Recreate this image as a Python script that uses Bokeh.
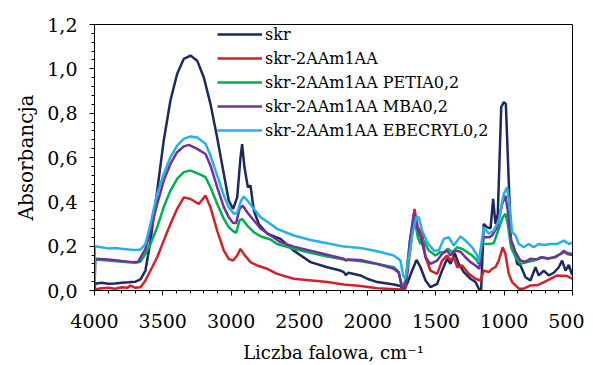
from bokeh.plotting import figure
from bokeh.models import Range1d, FixedTicker, Legend, LegendItem
from bokeh.embed import file_html
from bokeh.resources import INLINE

# ---- data (wavenumber, absorbance) ----
skr_wn = [4000, 3995, 3950, 3900, 3850, 3800, 3750, 3700, 3663, 3627, 3590, 3541, 3493, 3444, 3395, 3346, 3297,
          3248, 3200, 3151, 3102, 3053, 3017, 2985, 2955, 2931, 2919, 2902, 2877, 2858, 2833, 2797, 2735, 2638,
          2541, 2418, 2296, 2200, 2175, 2160, 2140, 2052, 2003, 1930, 1808, 1760, 1738, 1711, 1674, 1642, 1613,
          1576, 1540, 1491, 1455, 1418, 1393, 1362, 1333, 1296, 1247, 1210, 1186, 1169, 1150, 1125, 1100, 1081,
          1064, 1047, 1022, 1003, 988, 967, 950, 930, 905, 881, 844, 808, 771, 747, 710, 674, 637, 600, 576, 551,
          527, 502]
skr_a = [0.0, 0.03, 0.035, 0.03, 0.032, 0.035, 0.037, 0.04, 0.05, 0.09, 0.225, 0.45, 0.677, 0.857, 0.977, 1.045,
         1.06, 1.037, 0.962, 0.842, 0.69, 0.526, 0.406, 0.368, 0.42, 0.60, 0.66, 0.556, 0.466, 0.474, 0.36, 0.30,
         0.256, 0.233, 0.18, 0.128, 0.105, 0.09, 0.083, 0.07, 0.08, 0.068, 0.053, 0.038, 0.027, 0.02, 0.0, 0.03,
         0.09, 0.138, 0.105, 0.045, 0.015, 0.03, 0.09, 0.143, 0.12, 0.168, 0.12, 0.083, 0.053, 0.038, 0.008, 0.0,
         0.30, 0.285, 0.28, 0.413, 0.30, 0.346, 0.827, 0.85, 0.842, 0.496, 0.225, 0.195, 0.12, 0.113, 0.06, 0.045,
         0.105, 0.068, 0.09, 0.068, 0.08, 0.105, 0.135, 0.09, 0.115, 0.07]

red_wn = [4000, 3950, 3900, 3850, 3800, 3760, 3736, 3700, 3663, 3627, 3590, 3541, 3493, 3444, 3395, 3346, 3297,
          3236, 3187, 3151, 3102, 3053, 3017, 2985, 2955, 2931, 2907, 2858, 2809, 2735, 2663, 2541, 2296, 2175,
          2052, 1930, 1760, 1723, 1686, 1657, 1633, 1601, 1576, 1540, 1491, 1455, 1418, 1393, 1369, 1344, 1308,
          1259, 1210, 1174, 1150, 1113, 1089, 1064, 1040, 1011, 991, 967, 942, 893, 857, 808, 750, 686, 612, 539, 502]
red_a = [0.005, 0.01, 0.012, 0.008, 0.015, 0.012, 0.022, 0.012, 0.015, 0.045, 0.09, 0.15, 0.225, 0.30, 0.368, 0.42,
         0.413, 0.39, 0.428, 0.376, 0.27, 0.18, 0.143, 0.135, 0.158, 0.188, 0.165, 0.128, 0.113, 0.098, 0.075, 0.053,
         0.038, 0.027, 0.02, 0.01, 0.005, 0.008, 0.195, 0.368, 0.285, 0.256, 0.15, 0.09, 0.075, 0.135, 0.158, 0.135,
         0.15, 0.105, 0.113, 0.075, 0.053, 0.045, 0.09, 0.083, 0.098, 0.105, 0.135, 0.195, 0.165, 0.075, 0.038,
         0.008, 0.008, 0.023, 0.025, 0.045, 0.068, 0.065, 0.053]

petia_wn = [4000, 3995, 3900, 3800, 3700, 3663, 3627, 3590, 3541, 3493, 3444, 3395, 3346, 3297, 3236, 3187, 3151,
            3102, 3053, 3017, 2985, 2963, 2938, 2919, 2882, 2833, 2785, 2711, 2663, 2541, 2418, 2296, 2175, 2052,
            1930, 1808, 1772, 1747, 1723, 1686, 1657, 1633, 1613, 1589, 1552, 1503, 1467, 1442, 1413, 1381, 1344,
            1308, 1271, 1235, 1198, 1190, 1165, 1150, 1113, 1077, 1040, 1011, 991, 974, 950, 917, 881, 832, 783,
            735, 686, 637, 588, 551, 502]
petia_a = [0.0, 0.14, 0.135, 0.13, 0.125, 0.13, 0.165, 0.21, 0.285, 0.376, 0.451, 0.504, 0.534, 0.541, 0.526,
           0.511, 0.466, 0.391, 0.323, 0.286, 0.268, 0.26, 0.316, 0.323, 0.293, 0.263, 0.245, 0.23, 0.21, 0.188,
           0.17, 0.153, 0.14, 0.132, 0.12, 0.105, 0.083, 0.015, 0.045, 0.24, 0.33, 0.24, 0.21, 0.225, 0.18, 0.158,
           0.173, 0.173, 0.188, 0.173, 0.195, 0.188, 0.173, 0.158, 0.135, 0.12, 0.2, 0.21, 0.21, 0.213, 0.278, 0.33,
           0.346, 0.30, 0.195, 0.15, 0.12, 0.128, 0.135, 0.15, 0.143, 0.15, 0.165, 0.173, 0.165]

mba_wn = [4000, 3995, 3900, 3800, 3720, 3680, 3627, 3590, 3541, 3493, 3444, 3395, 3346, 3309, 3248, 3187, 3151,
          3102, 3053, 3017, 2985, 2963, 2938, 2914, 2882, 2833, 2785, 2711, 2638, 2541, 2418, 2296, 2175, 2160,
          2140, 2052, 1930, 1808, 1772, 1745, 1720, 1691, 1662, 1637, 1608, 1576, 1540, 1491, 1455, 1418, 1393,
          1357, 1320, 1284, 1247, 1210, 1182, 1165, 1150, 1113, 1089, 1052, 1015, 991, 974, 950, 917, 881, 844,
          808, 759, 722, 674, 625, 588, 563, 539, 502]
mba_a = [0.0, 0.143, 0.14, 0.133, 0.128, 0.13, 0.188, 0.27, 0.39, 0.496, 0.571, 0.624, 0.65, 0.657, 0.639, 0.616,
         0.564, 0.466, 0.376, 0.331, 0.304, 0.305, 0.368, 0.383, 0.353, 0.316, 0.28, 0.248, 0.218, 0.198, 0.18,
         0.161, 0.143, 0.135, 0.14, 0.138, 0.12, 0.098, 0.08, 0.0, 0.03, 0.225, 0.346, 0.285, 0.233, 0.15, 0.12,
         0.135, 0.165, 0.18, 0.158, 0.18, 0.175, 0.15, 0.128, 0.113, 0.098, 0.2, 0.24, 0.24, 0.248, 0.285, 0.39,
         0.428, 0.36, 0.225, 0.173, 0.135, 0.13, 0.143, 0.14, 0.15, 0.145, 0.15, 0.165, 0.18, 0.165, 0.16]

ebe_wn = [4000, 3997, 3950, 3900, 3850, 3800, 3750, 3700, 3663, 3627, 3590, 3541, 3493, 3444, 3395, 3346, 3297,
          3248, 3187, 3151, 3102, 3053, 3017, 2980, 2955, 2926, 2907, 2870, 2833, 2785, 2711, 2663, 2541, 2418,
          2296, 2175, 2052, 1930, 1808, 1760, 1740, 1723, 1698, 1667, 1642, 1625, 1601, 1564, 1515, 1479, 1442,
          1406, 1369, 1320, 1284, 1235, 1198, 1186, 1150, 1113, 1077, 1040, 1003, 979, 960, 942, 918, 893, 857,
          820, 784, 747, 710, 662, 612, 563, 527, 502]
ebe_a = [0.04, 0.2, 0.195, 0.19, 0.192, 0.188, 0.185, 0.183, 0.185, 0.21, 0.30, 0.436, 0.526, 0.601, 0.654, 0.684,
         0.695, 0.69, 0.662, 0.609, 0.519, 0.428, 0.376, 0.346, 0.35, 0.406, 0.424, 0.398, 0.368, 0.331, 0.30,
         0.278, 0.248, 0.228, 0.213, 0.198, 0.192, 0.177, 0.158, 0.135, 0.068, 0.053, 0.15, 0.27, 0.334, 0.33,
         0.27, 0.218, 0.18, 0.18, 0.233, 0.24, 0.203, 0.244, 0.225, 0.195, 0.158, 0.128, 0.285, 0.256, 0.27,
         0.316, 0.436, 0.466, 0.376, 0.263, 0.25, 0.21, 0.195, 0.21, 0.195, 0.21, 0.205, 0.21, 0.21, 0.225, 0.21,
         0.215]

series_names = ["skr", "skr-2AAm1AA", "skr-2AAm1AA PETIA0,2", "skr-2AAm1AA MBA0,2", "skr-2AAm1AA EBECRYL0,2"]
series_colors = ["#1c2a5c", "#d0222b", "#00b050", "#7030a0", "#29aee6"]
series_data = [(skr_wn, skr_a), (red_wn, red_a), (petia_wn, petia_a), (mba_wn, mba_a), (ebe_wn, ebe_a)]

x_ticks = [4000, 3500, 3000, 2500, 2000, 1500, 1000, 500]
y_ticks = [0.0, 0.2, 0.4, 0.6, 0.8, 1.0, 1.2]
y_tick_labels = ["0,0", "0,2", "0,4", "0,6", "0,8", "1,0", "1,2"]

SERIF = "DejaVu Serif"

p = figure(frame_width=478, frame_height=266, output_backend="svg", toolbar_location=None,
           x_range=Range1d(4000, 500), y_range=Range1d(0, 1.2),
           min_border_left=94, min_border_top=24, min_border_right=12, min_border_bottom=70)
p.background_fill_color = "white"
p.border_fill_color = "white"
p.outline_line_color = "black"
p.outline_line_width = 1
p.xgrid.visible = False
p.ygrid.visible = False

renderers = []
for (wn, a), c in zip(series_data, series_colors):
    r = p.line(wn, a, line_color=c, line_width=2.5)
    renderers.append(r)

legend = Legend(items=[LegendItem(label=n, renderers=[r]) for n, r in zip(series_names, renderers)],
                location=(123, 150))
legend.border_line_color = None
legend.background_fill_alpha = 0
legend.padding = 0
legend.margin = 0
legend.spacing = 4
legend.glyph_width = 45
legend.glyph_height = 20
legend.label_height = 20
legend.label_standoff = 3
legend.label_text_font = SERIF
legend.label_text_font_size = "16px"
legend.label_text_color = "black"
p.add_layout(legend)

# x axis
xa = p.xaxis[0]
xa.ticker = FixedTicker(ticks=x_ticks, minor_ticks=list(range(500, 4001, 100)))
xa.major_label_text_font = SERIF
xa.major_label_text_font_size = "19px"
xa.major_label_text_color = "black"
xa.major_label_standoff = 18
xa.major_tick_in = 0
xa.major_tick_out = 5
xa.minor_tick_in = 0
xa.minor_tick_out = 3
xa.axis_line_color = "black"
xa.major_tick_line_color = "black"
xa.minor_tick_line_color = "black"
xa.axis_label = "Liczba falowa, cm\u207b\u00b9"
xa.axis_label_text_font = SERIF
xa.axis_label_text_font_size = "18px"
xa.axis_label_text_font_style = "normal"
xa.axis_label_text_color = "black"
xa.axis_label_standoff = 11

ya = p.yaxis[0]
ya.ticker = FixedTicker(ticks=y_ticks, minor_ticks=[round(0.04 * i, 2) for i in range(31)])
ya.major_label_overrides = {t: l for t, l in zip(y_ticks, y_tick_labels)}
ya.major_label_text_font = SERIF
ya.major_label_text_font_size = "19px"
ya.major_label_text_color = "black"
ya.major_label_standoff = 12
ya.major_tick_in = 0
ya.major_tick_out = 5
ya.minor_tick_in = 0
ya.minor_tick_out = 3
ya.axis_line_color = "black"
ya.major_tick_line_color = "black"
ya.minor_tick_line_color = "black"
ya.axis_label = "Absorbancja"
ya.axis_label_text_font = SERIF
ya.axis_label_text_font_size = "20px"
ya.axis_label_text_font_style = "normal"
ya.axis_label_text_color = "black"
ya.axis_label_standoff = 6

open("out.html", "w").write(file_html(p, INLINE))
